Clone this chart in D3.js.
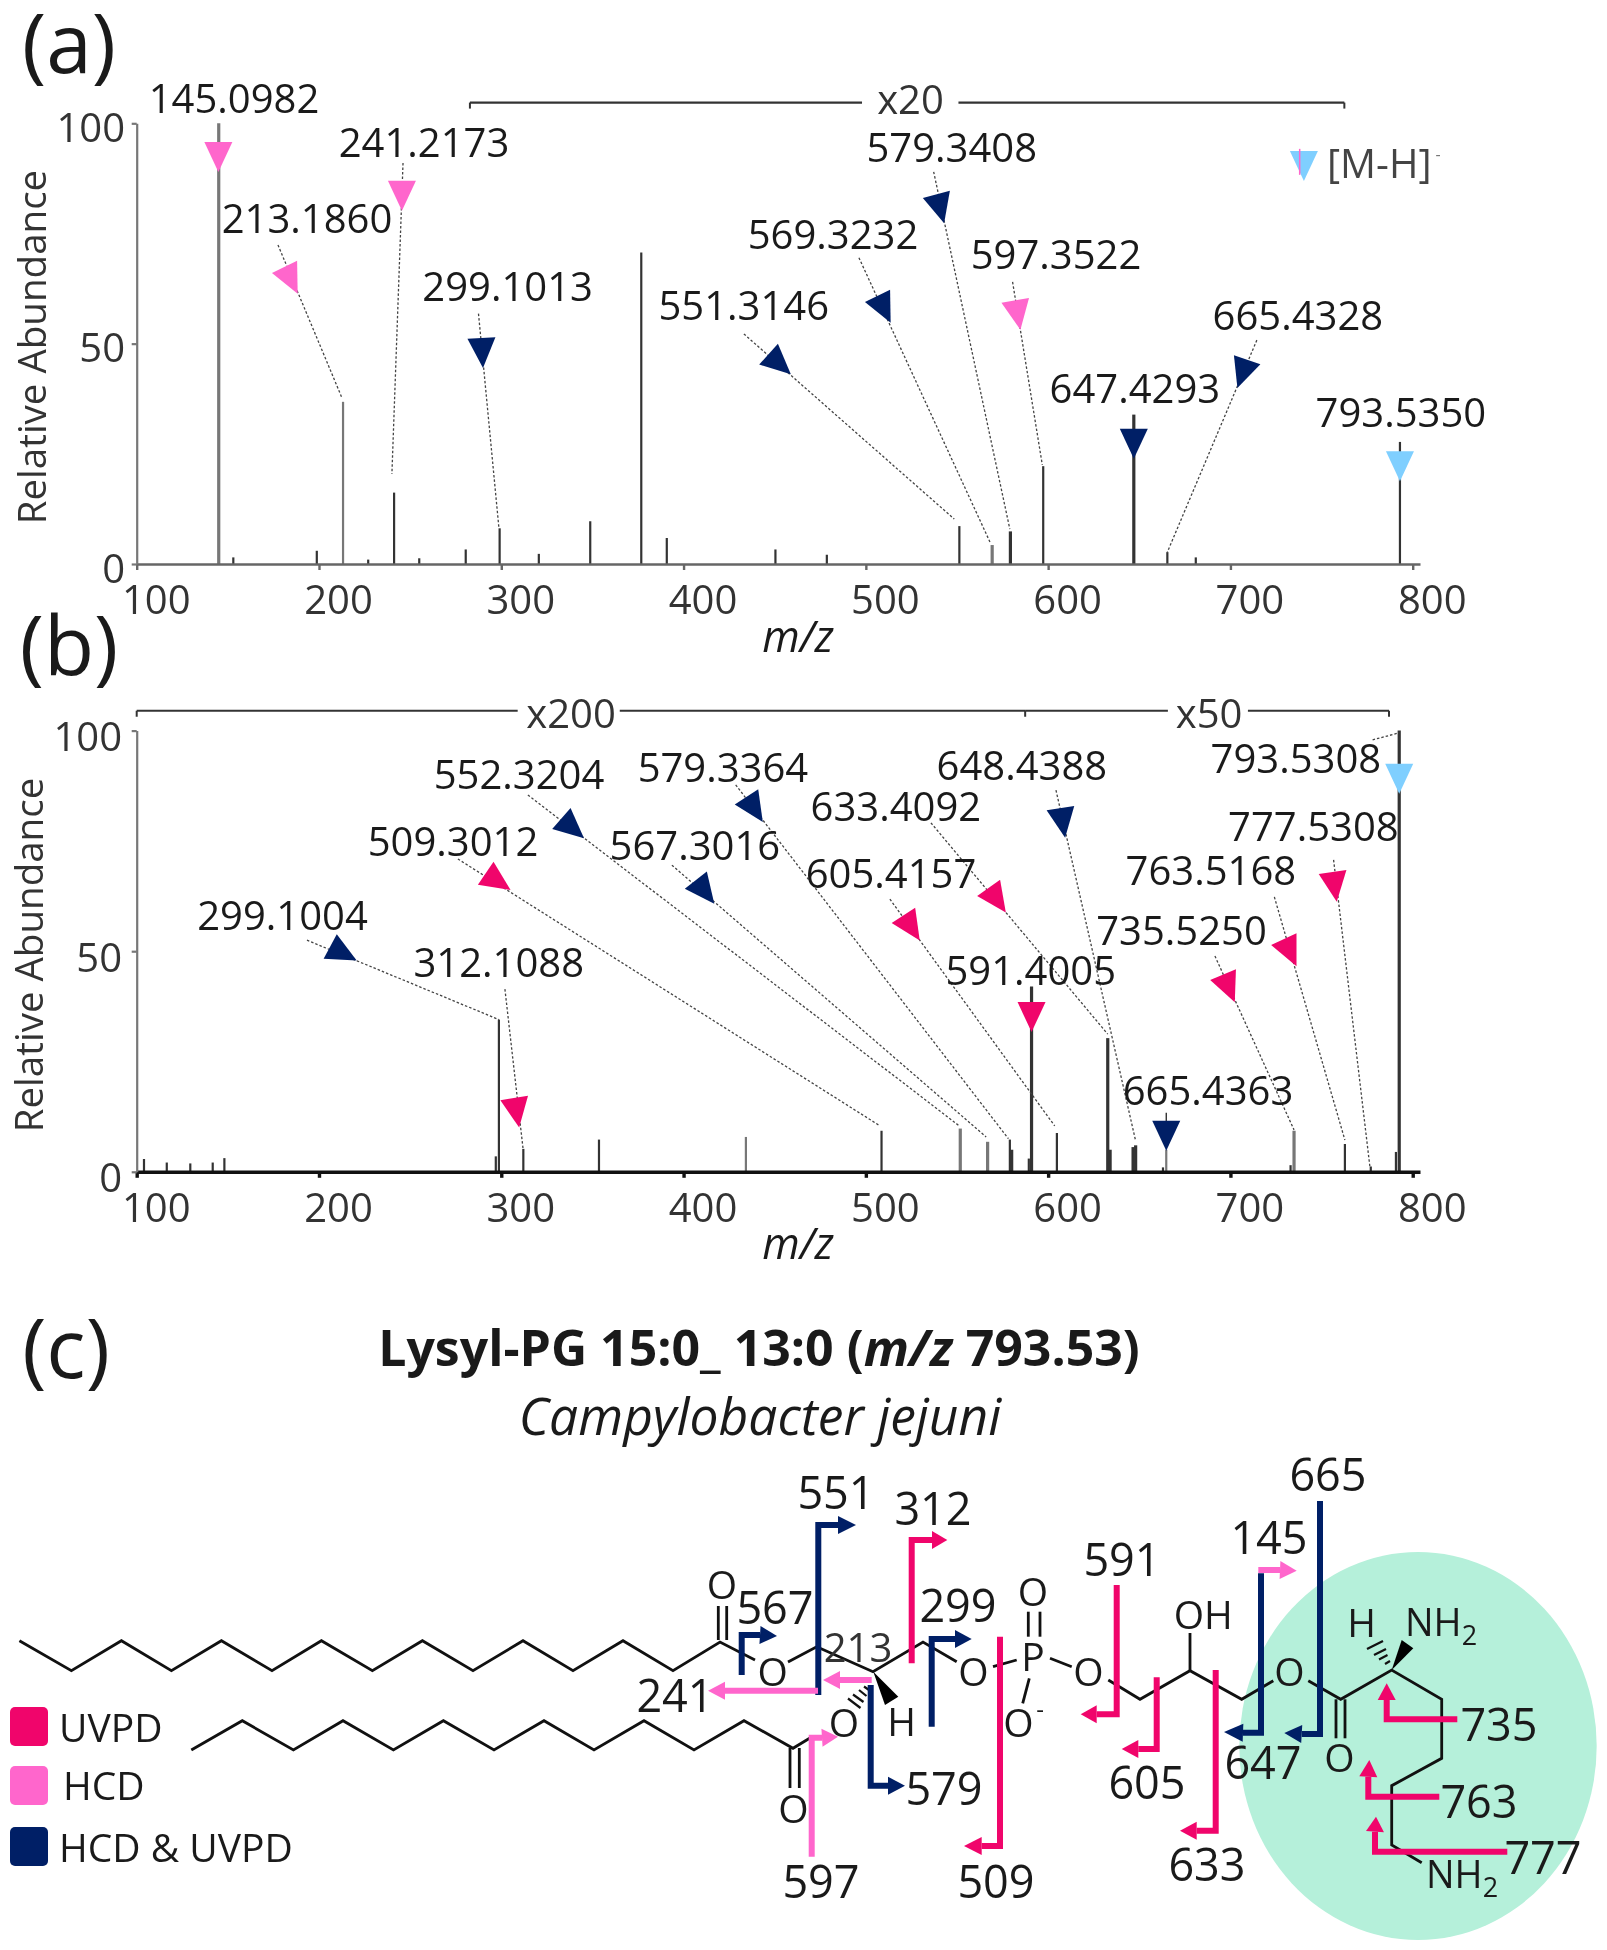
<!DOCTYPE html>
<html><head><meta charset="utf-8">
<script src="https://cdn.jsdelivr.net/npm/d3@7/dist/d3.min.js"></script>
<style>html,body{margin:0;background:#fff}svg{display:block;filter:blur(.6px)}text{font-family:"Open Sans",sans-serif;fill:#1a1a1a}</style>
</head><body><svg id="c" width="1607" height="1950"></svg>
<script>
const xTicks=[100,200,300,400,500,600,700,800], yTicks=[0,50,100];
const peaksA=[[145,100],[153,1.5],[198.8,3],[213.2,36.8],[227,1],[241.2,16.2],[255,1.3],[280.5,3.3],[299.1,8.1],[320.6,2.3],[348.8,9.7],[376.8,70.7],[390.8,5.9],[450.4,3.3],[478.6,2.1],[551.3,8.6],[569.3,4.3],[579.3,7.4],[597.3,22.2],[647,33.9],[665.4,2.7],[681,1.5],[793,27.7]];
const peaksB=[[104,2.9],[116.5,2.1],[129.4,1.9],[141.7,2.1],[148.1,3.1],[297,3.5],[298.7,34.5],[312.1,5.2],[353.6,7.3],[434.2,7.9],[508.6,9.3],[551.8,9.8],[566.8,6.8],[579,7.3],[580,5],[589.4,3],[590.9,42],[604.8,8.8],[632.7,30.3],[634,5],[646.6,5.6],[648,6],[663,1],[664.8,5],[733,1.5],[734.9,9.3],[762.8,6.3],[777,1.2],[790.8,4.5],[792.6,100]];
const colUV="#f0056b",colHCD="#ff66cc",colBoth="#001f66",colMH="#7fcfff";
// label, colour, labelMz, labelRel, markMz, markRel, angle, leader start mz/rel, leader end mz/rel
const annotA=[
["145.0982",colHCD,153.4,102.3,144.8,93.5,0],
["241.2173",colHCD,257.6,92.4,245.5,84.7,0,246.1,91,240,20.4],
["213.1860",colHCD,193.4,75,183.5,65.4,-26,177.5,72.4,212.6,37.7],
["299.1013",colBoth,303.5,59.7,289.4,49,-3,287.5,56.8,298.7,8.2],
["551.3146",colBoth,433,55.4,450.7,46.1,-48,433.1,52.2,548.5,10.2],
["569.3232",colBoth,482,71.5,508.8,58.8,-26,496.2,69.5,568.3,4.8],
["579.3408",colBoth,547.1,91.2,540.1,81.7,-15,537.2,89,579,7.9],
["597.3522",colHCD,604.3,67,582.9,57.6,-10,580.5,64,596.8,22.5],
["647.4293",colBoth,647.6,36.5,647,28.4,0],
["665.4328",colBoth,737,53.2,707.4,44.2,19,714.5,50.8,665.4,2.7],
["793.5350",colMH,793.5,31.1,793,23.3,0]];
const annotB=[
["299.1004",colBoth,180,54.9,211,50,-62,193.4,52.5,298.7,34.5],
["312.1088",colUV,298.6,44.2,308,14.5,-9.5,302,41.4,311.9,5.4],
["509.3012",colUV,273.5,71.6,296,66.4,-56,276.2,70.9,507.8,10.4],
["552.3204",colBoth,309.7,86.8,337.1,78.6,-49,314.6,85.4,551.3,10.4],
["579.3364",colBoth,421.6,88.4,437.5,83.1,-33,428.6,87.7,578.2,7.5],
["567.3016",colBoth,406.2,70.6,410.1,64.3,-38,393.6,69.5,566,7.9],
["605.4157",colUV,513.8,64.4,523.6,56.2,-33,513.2,61.8,603.6,10.4],
["633.4092",colUV,516.5,79.6,570.5,62.5,-35,535.7,79.1,632.7,31.2],
["648.4388",colBoth,585.6,88.9,607.6,80.2,-9,604.3,86.5,647.9,7.2],
["591.4005",colUV,590.5,42.3,590.9,36.2,0],
["665.4363",colBoth,687.7,15.1,664.8,9.3,0,664.8,13.4,664.8,10],
["735.5250",colUV,673.2,51.3,698.1,42.6,-23,691.5,48.9,734.9,9.5],
["763.5168",colUV,689.3,65,731.6,50.7,-25,724.1,62.3,762.8,7.2],
["777.5308",colUV,745.5,75,756.8,65.7,-8,756.6,70.7,776.5,1.2],
["793.5308",colMH,735.9,90.5,792.6,90.2,0,778,97.9,792.6,99.5]];
const scaleLabels=["x20","x200","x50"];

const svg=d3.select("#c");
const fs=40;
function panel(o){
  const x=d3.scaleLinear().domain([100,804]).range([136.7,1420]);
  const y=d3.scaleLinear().domain([0,100]).range([o.y0,o.y100]);
  const g=svg.append("g");
  g.selectAll(".p").data(o.peaks).join("line").attr("x1",d=>x(d[0])).attr("x2",d=>x(d[0])).attr("y1",y(0)).attr("y2",d=>y(d[1]))
    .attr("stroke",d=>o.grey(d)?"#777":"#333").attr("stroke-width",d=>o.wide(d)?3.2:2.2);
  const ax=g.append("g").attr("transform",`translate(0,${o.y0})`).call(d3.axisBottom(x).tickValues(xTicks).tickSize(6).tickSizeOuter(0));
  const ay=g.append("g").attr("transform","translate(136.7,0)").call(d3.axisLeft(y).tickValues(yTicks).tickSize(5).tickSizeOuter(0));
  ax.selectAll("path,line").attr("stroke",o.axisX).attr("stroke-width",o.axisW);
  ay.selectAll("path,line").attr("stroke","#777").attr("stroke-width",2.2);
  ax.selectAll("text").attr("font-size",fs).attr("dy",0).attr("x",19).attr("y",o.xLab).style("fill","#333");
  ay.selectAll("text").attr("font-size",fs).attr("dy",0).attr("x",o.yLabX).attr("y",o.yLab).style("fill","#333");
  ax.attr("font-family",null); ay.attr("font-family",null);
  g.append("text").attr("transform",`translate(${o.ylx},${(o.y0+o.y100)/2-o.yld}) rotate(-90)`).attr("text-anchor","middle").attr("font-size",38.5).style("fill","#333").text("Relative Abundance");
  g.append("text").attr("x",798).attr("y",o.mzy).attr("text-anchor","middle").attr("font-size",43).attr("font-style","italic").text("m/z");
  g.selectAll(".l").data(o.annot.filter(d=>d.length>7)).join("line").attr("x1",d=>x(d[7])).attr("y1",d=>y(d[8])).attr("x2",d=>x(d[9])).attr("y2",d=>y(d[10]))
    .attr("stroke",d=>d[0]==="665.4363"?"#222":"#444").attr("stroke-width",1.3).attr("stroke-dasharray",d=>d[0]==="665.4363"?null:"2.5 2");
  g.selectAll(".m").data(o.annot).join("path").attr("d","M-14,-10L14,-10L0,20Z").attr("fill",d=>d[1])
    .attr("transform",d=>`translate(${x(d[4])},${y(d[5])}) rotate(${d[6]})`);
  g.selectAll(".t").data(o.annot).join("text").attr("x",d=>x(d[2])).attr("y",d=>y(d[3])).attr("text-anchor","middle").attr("font-size",fs).text(d=>d[0]);
  return {x,y,g};
}
const A=panel({y0:564,y100:123.3,peaks:peaksA,annot:annotA,axisX:"#666",axisW:2.4,xLab:49.6,yLab:18,yLabX:-11.7,ylx:46,yld:-3.4,mzy:652,
  grey:d=>d[0]===145||d[0]===213.2||d[0]===569.3,wide:d=>d[0]===145||d[0]===647||d[0]===569.3||d[0]===579.3});
const B=panel({y0:1171.8,y100:730.6,peaks:peaksB,annot:annotB,axisX:"#111",axisW:3.4,xLab:49.8,yLab:20,yLabX:-14.7,ylx:43,yld:-3.8,mzy:1259,
  grey:d=>[551.8,566.8,734.9,664.8,434.2].includes(d[0]),wide:d=>[551.8,566.8,734.9,590.9,632.7,792.6,580,648,646.6,634].includes(d[0])});
const X=A.x,Ya=A.y,Yb=B.y;
const brLine=(x1,x2,y,ends)=>{svg.append("line").attr("x1",x1).attr("x2",x2).attr("y1",y).attr("y2",y).attr("stroke","#333").attr("stroke-width",2.2);
  ends.forEach(e=>svg.append("line").attr("x1",e).attr("x2",e).attr("y1",y).attr("y2",y+6).attr("stroke","#333").attr("stroke-width",2));};
const tx=(s,x,y,fsz,extra={})=>{const t=svg.append("text").attr("x",x).attr("y",y).attr("font-size",fsz).attr("text-anchor",extra.a||"middle").text(s);
  if(extra.w)t.attr("font-weight",extra.w);if(extra.i)t.attr("font-style","italic");if(extra.f)t.style("fill",extra.f);return t;};
brLine(X(282.8),X(497.9),Ya(104.7),[X(282.8)]);brLine(X(550.8),X(762.5),Ya(104.7),[X(762.5)]);
tx(scaleLabels[0],X(524.5),Ya(102),fs,{f:"#333"});
brLine(X(100),X(309),Yb(104.5),[X(100)]);brLine(X(365),X(587.4),Yb(104.5),[]);brLine(X(587.4),X(665.7),Yb(104.5),[X(587.4)]);brLine(X(709.6),X(787),Yb(104.5),[X(787)]);
tx(scaleLabels[1],X(338.3),Yb(100.5),fs,{f:"#333"});tx(scaleLabels[2],X(688.3),Yb(100.5),fs,{f:"#333"});
// [M-H]- key
svg.append("path").attr("d","M-14,-15L14,-15L0,15Z").attr("fill",colMH).attr("transform",`translate(${X(740.3)},${Ya(90.3)})`);
svg.append("line").attr("x1",X(738)).attr("x2",X(738)).attr("y1",Ya(94.2)).attr("y2",Ya(88.3)).attr("stroke",colHCD).attr("stroke-width",1.5);
tx("[M-H]",1327,178,40,{a:"start",f:"#444"});tx("-",1438,160,16,{f:"#777"});
// panel letters
[["(a)",69,73],["(b)",69,675],["(c)",66,1378]].forEach(d=>tx(d[0],d[1],d[2],82));
const title=svg.append("text").attr("x",759).attr("y",1366).attr("text-anchor","middle").attr("font-size",50).attr("font-weight",700);
title.append("tspan").text("Lysyl-PG 15:0_ 13:0 (");title.append("tspan").attr("font-style","italic").text("m/z");title.append("tspan").text(" 793.53)");
tx("Campylobacter jejuni",760,1435,51.5,{i:1});
// legend
const legendItems=[["UVPD",colUV,59,1707,1742],["HCD",colHCD,63,1766,1800],["HCD & UVPD",colBoth,59,1827,1862]];
legendItems.forEach(d=>{svg.append("rect").attr("x",10).attr("y",d[3]).attr("width",38).attr("height",39).attr("rx",5).attr("fill",d[1]);tx(d[0],d[2],d[4],39,{a:"start"});});
// structure
svg.insert("ellipse",":first-child").attr("cx",1418).attr("cy",1746).attr("rx",178.7).attr("ry",194).attr("fill","#b5f0da");
const bonds=[
[[19.4,1640.7],[71.4,1670.7],[121.4,1640.7],[171.4,1670.7],[221.4,1640.7],[272,1670.7],[321.4,1640.7],[372.4,1670.7],[422.4,1640.7],[473,1670.7],[523,1640.7],[573,1670.7],[623,1640.7],[673,1670.7],[720,1642],[755,1660]],
[[191.3,1750],[242.3,1720.7],[293.4,1750],[343,1720.7],[393.4,1750],[443.4,1720.7],[494,1750],[544,1720.7],[594,1750],[644,1720.7],[694,1750],[744,1720.7],[793,1748.3],[810,1738]],
[[718.3,1606],[718.3,1640]],[[726.7,1606],[726.7,1640]],
[[788,1662],[816.7,1646.7],[873,1671.7],[923,1642],[956.7,1661.7]],
[[993,1666.7],[1016.7,1660]],[[1028.3,1611.7],[1028.3,1636.7]],[[1040,1611.7],[1040,1636.7]],[[1050,1658.3],[1071.7,1666.7]],[[1029.3,1678.3],[1022.7,1703.3]],
[[1108.3,1680],[1140,1699.3],[1190,1670.7],[1241.7,1699.3],[1273.3,1680.7]],[[1190,1633],[1190,1670.7]],
[[1308.3,1680.7],[1340.7,1699.3],[1391.7,1670],[1441.7,1699.3],[1441.7,1758.3],[1391.7,1785.7],[1391.7,1845],[1421.7,1862.7]],
[[1336,1699.3],[1336,1738.3]],[[1345,1699.3],[1345,1738.3]],
[[790,1748],[790,1788]],[[799.3,1748],[799.3,1788]]];
const wedges=[[[873.3,1671.7],[898.3,1696.7],[885,1705]],[[1391.7,1670],[1401.7,1640],[1413.3,1648.3]]];
const hashes=[[[864,1686.5],[869,1690]],[[859,1690],[866.5,1696]],[[853,1694.5],[863.5,1702]],[[848,1698.5],[860.5,1708]],
[[1385,1664],[1390,1661]],[[1379,1659.5],[1387.5,1655]],[[1374,1655],[1386,1649]],[[1367,1649],[1383,1641]]];
const atoms=[["O",722,1585],["O",772.7,1671.7],["O",973.3,1671.7],["P",1033,1656.7],["O",1033,1591.7],["O",1088.3,1671.7],["O",1018.3,1723.3],["OH",1203.3,1615],["O",1289.3,1671.7],["O",1339.3,1758.3],["H",1361.7,1623],["O",844,1723.3],["O",793.3,1809.3],["H",901.7,1721.7]];
const line=d3.line();
svg.append("g").selectAll("path").data(bonds).join("path").attr("d",line).attr("fill","none").attr("stroke","#111").attr("stroke-width",2.8);
svg.append("g").selectAll("path").data(wedges).join("path").attr("d",d=>line(d)+"Z").attr("fill","#000");
svg.append("g").selectAll("path").data(hashes).join("path").attr("d",line).attr("stroke","#111").attr("stroke-width",2.2);
atoms.forEach(d=>tx(d[0],d[1],d[2]+14,39));
tx("-",1040,1718,24);
[["NH",1405,1636,"2"],["NH",1426,1888,"2"]].forEach(d=>{const t=svg.append("text").attr("x",d[1]).attr("y",d[2]).attr("font-size",38).attr("text-anchor","start").text(d[0]);t.append("tspan").attr("dy",9).attr("font-size",27).text(d[3]);});
const frags=[
[colBoth,[[741.7,1675],[741.7,1635],[760,1635]],[777,1636]],
[colBoth,[[818.3,1695],[818.3,1525],[838,1525]],[856,1525]],
[colHCD,[[818,1690.7],[725,1690.7]],[708,1690.7]],
[colHCD,[[871.7,1680],[840,1680]],[823,1680]],
[colBoth,[[870.7,1685],[870.7,1785.7],[888,1785.7]],[905,1785.7]],
[colHCD,[[811.7,1856.7],[811.7,1737.7],[822,1737.7]],[838,1736.7]],
[colUV,[[911.7,1663.3],[911.7,1540],[932,1540]],[947.3,1540]],
[colBoth,[[931.7,1726.7],[931.7,1639],[955,1639]],[971.7,1639]],
[colUV,[[1000,1636.7],[1000,1846],[981.7,1846]],[964,1846]],
[colUV,[[1116.7,1585],[1116.7,1714.3],[1096.7,1714.3]],[1080.7,1714.3]],
[colUV,[[1156.7,1677.3],[1156.7,1749],[1138.3,1749]],[1121.7,1749]],
[colUV,[[1215.7,1670],[1215.7,1830.7],[1196.7,1830.7]],[1180,1830.7]],
[colHCD,[[1258.3,1570],[1280,1570]],[1296.7,1570.7]],
[colBoth,[[1261,1573.3],[1261,1732.7],[1243,1732.7]],[1224,1732]],
[colBoth,[[1320,1501],[1320,1734],[1301.7,1734]],[1284.3,1733]],
[colUV,[[1457.3,1719.3],[1386.7,1719.3],[1386.7,1700]],[1386.7,1683.3]],
[colUV,[[1439.3,1796.7],[1368.3,1796.7],[1368.3,1776.7]],[1369.3,1760]],
[colUV,[[1507.3,1851.7],[1375,1851.7],[1375,1831.7]],[1376,1816.7]]];
const fg=svg.append("g");
fg.selectAll(".fl").data(frags).join("path").attr("d",d=>line(d[1])).attr("fill","none").attr("stroke",d=>d[0]).attr("stroke-width",6);
fg.selectAll(".fh").data(frags).join("path").attr("fill",d=>d[0]).attr("d",d=>{const a=d[1][d[1].length-1],t=d[2],dx=t[0]-a[0],dy=t[1]-a[1],L=Math.hypot(dx,dy),nx=-dy/L*9,ny=dx/L*9;
  return line([[a[0]+nx,a[1]+ny],t,[a[0]-nx,a[1]-ny]])+"Z";});
const fragLabels=[["567",775,1624],["551",836,1509],["241",675,1712],["579",944,1805],["597",821,1898],["312",933,1525],["299",958,1622],["509",996,1898],["591",1122,1576],["605",1147,1799],["633",1207,1881],["145",1269,1554],["647",1263,1779],["665",1328,1491],["735",1499,1741],["763",1479,1818],["777",1543,1874]];
fragLabels.forEach(d=>tx(d[0],d[1],d[2],45));
tx("213",858,1661.7,40,{f:"#333"});
</script></body></html>
